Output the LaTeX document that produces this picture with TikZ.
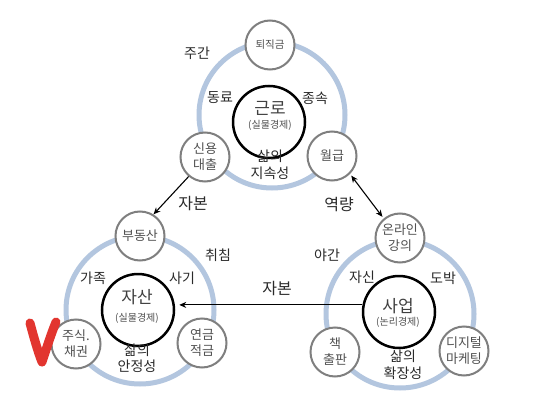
\documentclass[tikz,border=0pt]{standalone}
\usepackage{fontspec}
\setmainfont{Noto Sans CJK KR}
\usetikzlibrary{arrows.meta}
\definecolor{ringblue}{HTML}{B3C6DF}
\definecolor{cgray}{HTML}{7F7F7F}
\definecolor{tgray}{HTML}{505050}
\definecolor{labc}{HTML}{2A2A2A}
\definecolor{vred}{HTML}{E2352F}
\tikzset{
  ring/.style={draw=ringblue, line width=5pt},
  small/.style={circle, draw=cgray, line width=2pt, fill=white, minimum size=49pt, inner sep=0pt,
    align=center, text=tgray, font=\fontsize{13}{16}\selectfont},
  inner/.style={circle, draw=black, line width=2.5pt, fill=white, minimum size=72pt, inner sep=0pt},
  lab/.style={text=labc, inner sep=0pt, align=center, font=\fontsize{14}{16.5}\selectfont},
  biglab/.style={text=labc, inner sep=0pt, font=\fontsize{16}{18}\selectfont},
  ttl/.style={text=tgray!80!black, inner sep=0pt, font=\fontsize{17}{18}\selectfont},
  sub/.style={text=tgray, inner sep=0pt, font=\fontsize{10}{11}\selectfont},
  conn/.style={line width=1.1pt, -{Stealth[length=7pt,width=6pt]}},
}
\begin{document}
\begin{tikzpicture}[x=1pt,y=-1pt]
\useasboundingbox (0,0) rectangle (538,404);
\fill[white] (0,0) rectangle (538,404);

% rings
\draw[ring] (272,115) circle[radius=73pt];
\draw[ring] (140,310) circle[radius=74pt];
\draw[ring] (400,314) circle[radius=74pt];

% inner circles
\node[inner] (geun) at (269,122) {};
\node[inner] (jasan) at (138,310) {};
\node[inner] (saup) at (399,312) {};

\node[ttl] (t1) at (270,108) {근로};
\node[sub] (s1) at (270,125) {(실물경제)};
\node[ttl] (t2) at (137,297) {자산};
\node[sub] (s2) at (137,318) {(실물경제)};
\node[ttl] (t3) at (398,306) {사업};
\node[sub] (s3) at (398,322) {(논리경제)};

% small circles
\node[small, font=\fontsize{10.5}{12}\selectfont] (toe) at (270,45) {퇴직금};
\node[small] (sin) at (205,157) {신용\\대출};
\node[small] (wol) at (332,156) {월급};
\node[small] (bu) at (140,236) {부동산};
\node[small] (ju) at (76,344) {주식.\\채권};
\node[small] (yeon) at (202,343) {연금\\적금};
\node[small] (on) at (400,238) {온라인\\강의};
\node[small] (chaek) at (335,352) {책\\출판};
\node[small] (di) at (464,351) {디지털\\마케팅};

% labels
\node[lab] (l1) at (197,53) {주간};
\node[lab] (l2) at (220,98) {동료};
\node[lab] (l3) at (315,98) {종속};
\node[lab] (l4) at (270,165) {삶의\\지속성};
\node[lab] (l5) at (218,255) {취침};
\node[lab] (l6) at (93,278) {가족};
\node[lab] (l7) at (182,278) {사기};
\node[lab] (l8) at (137,358) {삶의\\안정성};
\node[lab] (l9) at (327,255) {야간};
\node[lab] (l10) at (362,277) {자신};
\node[lab] (l11) at (443,278) {도박};
\node[lab] (l12) at (403,365) {삶의\\확장성};
\node[biglab] (b1) at (193,204) {자본};
\node[biglab] (b2) at (339,205) {역량};
\node[biglab] (b3) at (277,289) {자본};

% connectors
\draw[conn] (sin.230) -- (bu.58);
\draw[conn, {Stealth[length=7pt,width=6pt]}-{Stealth[length=7pt,width=6pt]}, shorten <=2pt, shorten >=2pt] (wol.-45) -- (on.130);
\draw[conn, shorten >=4pt] (saup.169) -- (saup.169 -| jasan.east);

% red check mark
\draw[vred, line width=9pt, line cap=round, line join=round]
  (30,323) .. controls (34,338) and (38,352) .. (42,362)
  .. controls (46,350) and (51,334) .. (56,322);
\end{tikzpicture}
\end{document}
